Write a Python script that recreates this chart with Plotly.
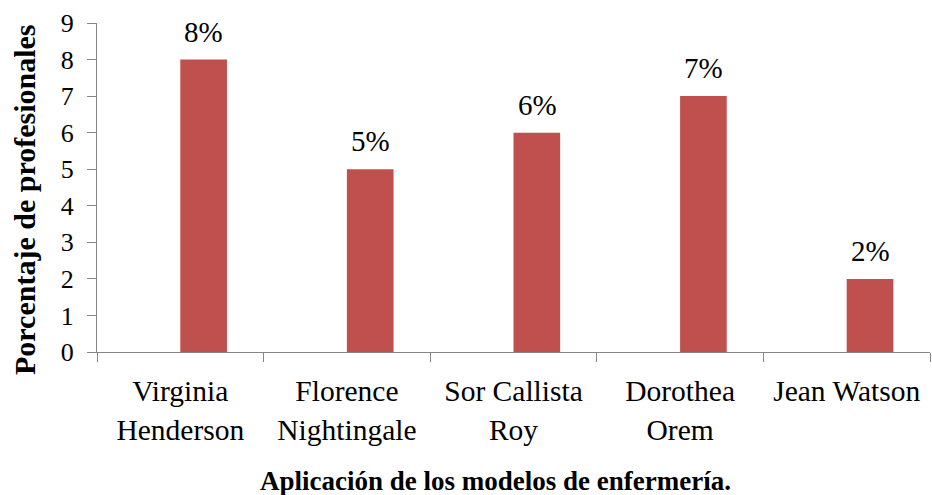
import plotly.graph_objects as go

# Data
modelos = ["Virginia<br>Henderson", "Florence<br>Nightingale", "Sor Callista<br>Roy",
           "Dorothea<br>Orem", "Jean Watson"]
porcentaje = [8, 5, 6, 7, 2]
y_ticks = list(range(0, 10))

FONT = "Times New Roman"
AXIS_GRAY = "#868686"
BAR_RED = "#C0504D"

fig = go.Figure()
fig.add_trace(go.Bar(
    x=modelos,
    y=porcentaje,
    width=0.28,
    offset=0,
    marker=dict(color=BAR_RED, line=dict(width=0)),
    hoverinfo="skip",
))

# Value labels above each bar
for cat, val in zip(modelos, porcentaje):
    fig.add_annotation(
        x=cat, y=val, xref="x", yref="y",
        text=f"{val}%", showarrow=False,
        xanchor="center", yanchor="middle", xshift=23.5, yshift=28,
        font=dict(family=FONT, size=29, color="black"),
    )

fig.update_layout(
    template="none",
    width=932, height=495,
    margin=dict(l=97, r=2, t=23, b=143),
    paper_bgcolor="white", plot_bgcolor="white",
    showlegend=False,
    font=dict(family=FONT, color="black"),
)

fig.add_annotation(
    text="<b>Aplicación de los modelos de enfermería.</b>",
    xref="paper", yref="paper", x=(495 - 97) / 833, y=-(481 - 352) / 329,
    xanchor="center", yanchor="middle", showarrow=False,
    font=dict(family=FONT, size=27, color="black"),
)
fig.add_annotation(
    text="<b>Porcentaje de profesionales</b>",
    xref="paper", yref="paper", x=-(97 - 25) / 833, y=(352 - 200) / 329,
    xanchor="center", yanchor="middle", showarrow=False, textangle=-90,
    font=dict(family=FONT, size=30, color="black"),
)

fig.update_xaxes(
    type="category",
    range=[-0.5, 4.5],
    showline=True, linecolor=AXIS_GRAY, linewidth=1,
    ticks="outside", ticklen=9, tickcolor=AXIS_GRAY, tickwidth=1,
    tickson="boundaries",
    showgrid=False, zeroline=False,
    tickfont=dict(family=FONT, size=29.5, color="black"),
    ticklabelstandoff=13,
)

fig.update_yaxes(
    range=[0, 9],
    tickvals=y_ticks,
    showline=True, linecolor=AXIS_GRAY, linewidth=1,
    ticks="outside", ticklen=9, tickcolor=AXIS_GRAY, tickwidth=1,
    showgrid=False, zeroline=False,
    tickfont=dict(family=FONT, size=26, color="black"),
    ticklabelstandoff=8,
)

fig.write_html("out.html")
